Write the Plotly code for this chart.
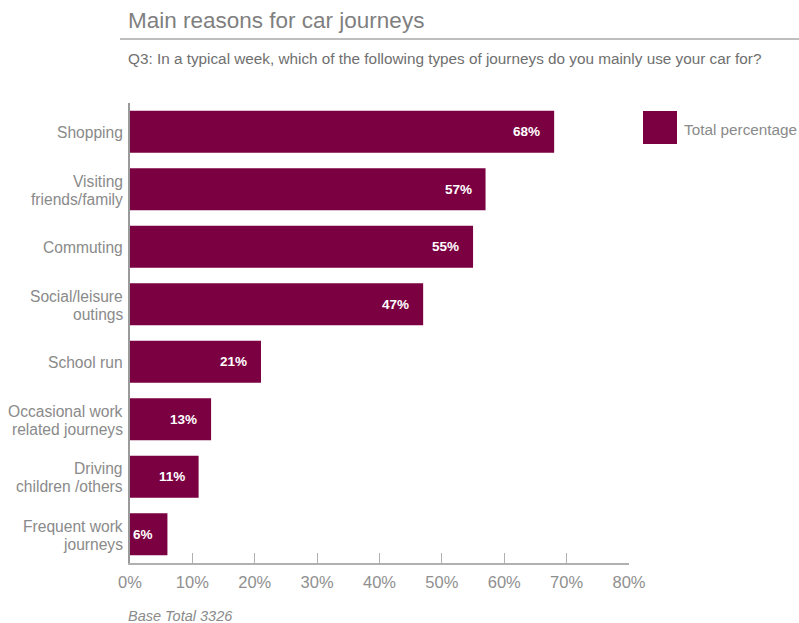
import plotly.graph_objects as go

# Survey results: share of drivers using the car mainly for each journey type
categories = [
    "Shopping",
    "Visiting<br>friends/family",
    "Commuting",
    "Social/leisure<br>outings",
    "School run",
    "Occasional work<br>related journeys",
    "Driving<br>children /others",
    "Frequent work<br>journeys",
]
values = [68, 57, 55, 47, 21, 13, 11, 6]
x_ticks = [0, 10, 20, 30, 40, 50, 60, 70, 80]
x_tick_labels = [f"{t}%" for t in x_ticks]

BAR = "#7B0041"
GREY = "#8a8a8a"
FONT = "Liberation Sans, Arial, Helvetica, sans-serif"

W, H = 799, 623
ML, MR, MT, MB = 130, 170, 103, 60
PW, PH = W - ML - MR, H - MT - MB
LINE_GAP = 18  # line spacing for the two-line category labels


def px_x(px):
    return (px - ML) / PW


def px_y(py):
    return (H - MB - py) / PH


fig = go.Figure()
fig.add_trace(go.Bar(
    x=values,
    y=categories,
    orientation="h",
    marker=dict(color=BAR, line=dict(width=0)),
    width=0.73,
    name="Total percentage",
    showlegend=False,
    hoverinfo="x+y",
))

annotations = []
# value labels inside the bar ends
for cat, v in zip(categories, values):
    annotations.append(dict(
        x=v, y=cat, xref="x", yref="y", text=f"<b>{v}%</b>",
        showarrow=False, xanchor="right", xshift=-12,
        font=dict(color="white", size=13.5, family=FONT),
    ))

# category labels, one line at a time so the line spacing stays tight
for cat in categories:
    lines = cat.split("<br>")
    n = len(lines)
    for i, line in enumerate(lines):
        offset = (i - (n - 1) / 2) * LINE_GAP
        annotations.append(dict(
            x=px_x(124), y=cat, xref="paper", yref="y", text=line,
            showarrow=False, xanchor="right", yanchor="middle",
            yshift=-offset - 1, borderpad=0,
            font=dict(size=15.6, color=GREY, family=FONT),
        ))

# title, subtitle, footnote, legend text
annotations += [
    dict(x=px_x(126), y=px_y(20), xref="paper", yref="paper",
         text="Main reasons for car journeys", showarrow=False,
         xanchor="left", yanchor="middle",
         font=dict(size=22.5, color="#7f7f7f", family=FONT)),
    dict(x=px_x(126), y=px_y(58), xref="paper", yref="paper",
         text="Q3: In a typical week, which of the following types of journeys do you mainly use your car for?",
         showarrow=False, xanchor="left", yanchor="middle",
         font=dict(size=15.3, color="#6f6f6f", family=FONT)),
    dict(x=px_x(126), y=px_y(616), xref="paper", yref="paper",
         text="<i>Base Total 3326</i>", showarrow=False,
         xanchor="left", yanchor="middle",
         font=dict(size=14.5, color="#8a8a8a", family=FONT)),
    dict(x=px_x(682), y=px_y(129), xref="paper", yref="paper",
         text="Total percentage", showarrow=False,
         xanchor="left", yanchor="middle",
         font=dict(size=15.3, color=GREY, family=FONT)),
]

shapes = [
    # rule under the title
    dict(type="line", xref="paper", yref="paper",
         x0=px_x(120), x1=px_x(799), y0=px_y(39), y1=px_y(39),
         line=dict(color="#a8a8a8", width=1.5)),
    # legend swatch
    dict(type="rect", xref="paper", yref="paper",
         x0=px_x(643), x1=px_x(677), y0=px_y(111), y1=px_y(144),
         fillcolor=BAR, line=dict(width=0)),
]

fig.update_layout(
    width=W, height=H,
    margin=dict(l=ML, r=MR, t=MT, b=MB, pad=0, autoexpand=False),
    paper_bgcolor="white", plot_bgcolor="white",
    font=dict(family=FONT, color=GREY, size=14),
    bargap=0.27,
    annotations=annotations,
    shapes=shapes,
    showlegend=False,
)
fig.update_xaxes(
    range=[0, 80], tickvals=x_ticks, ticktext=x_tick_labels,
    showgrid=False, zeroline=False, automargin=False,
    showline=True, linecolor="#b0b0b0", linewidth=1.5,
    ticks="inside", ticklen=10, tickcolor="#b0b0b0", tickwidth=1,
    ticklabelstandoff=3,
    tickfont=dict(size=16.5, color="#8f8f8f", family=FONT),
    fixedrange=True,
)
fig.update_yaxes(
    categoryorder="array", categoryarray=categories[::-1],
    showgrid=False, zeroline=False, automargin=False,
    showline=True, linecolor="#9a9a9a", linewidth=1.5,
    ticks="", showticklabels=False,
    fixedrange=True,
)

fig.write_html("out.html")
